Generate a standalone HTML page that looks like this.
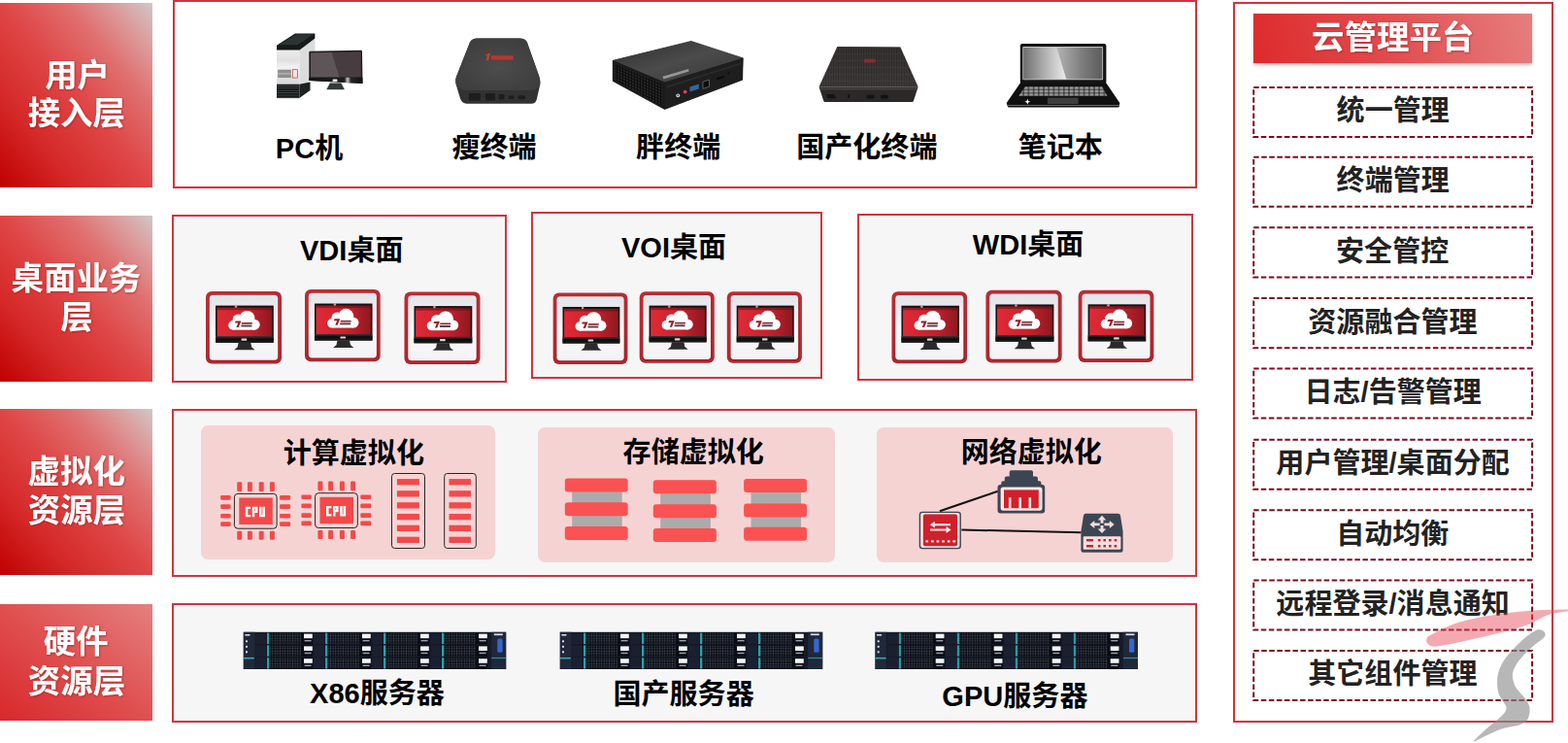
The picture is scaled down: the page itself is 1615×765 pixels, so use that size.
<!DOCTYPE html>
<html lang="zh"><head><meta charset="utf-8"><title>云桌面架构</title>
<style>
html,body{margin:0;padding:0;background:#fff}
body{width:1615px;height:765px;position:relative;overflow:hidden;font-family:"Liberation Sans","Noto Sans CJK SC",sans-serif}
.lb{position:absolute;left:0;width:157px}
.b1{background:linear-gradient(to top right,#c00000 0%,#d52828 25%,#df4646 50%,#e07070 72%,#dba0a0 88%,#cfc8c8 100%)}
.b4{background:linear-gradient(to top right,#d8282b 0%,#e05050 50%,#e48080 100%)}
.bx{position:absolute;border:2px solid #d0343e;}
.pk{position:absolute;background:#f6d3d3;border-radius:7px}
.hd{position:absolute;background:linear-gradient(76deg,#dd2a2c 0%,#e14a4c 45%,#e67e7e 100%);box-shadow:0 2px 3px rgba(120,40,40,.35)}
.ds{position:absolute;width:286.5px;height:50.5px;border:1.5px dashed #8c1c2c}
.t{position:absolute;color:transparent;white-space:nowrap;line-height:1;overflow:hidden;font-weight:bold}
svg.ov{position:absolute;left:0;top:0}
svg.ov text{font-family:"Liberation Sans","Noto Sans CJK SC",sans-serif;font-weight:bold}
</style></head><body>
<div class="lb b1" style="top:3.1px;height:190.4px"></div>
<div class="lb b1" style="top:222.4px;height:170.3px"></div>
<div class="lb b1" style="top:420.5px;height:171.9px"></div>
<div class="lb b4" style="top:622.2px;height:120.3px"></div>
<div class="bx" style="left:178px;top:-0.4px;width:1050.9px;height:190.2px;background:#fff;border-width:2px"></div>
<div class="bx" style="left:176.9px;top:221.1px;width:341.0px;height:168.8px;background:#f6f6f6;border-width:2px"></div>
<div class="bx" style="left:547.1px;top:218.1px;width:296.1px;height:167.9px;background:#f6f6f6;border-width:2px"></div>
<div class="bx" style="left:883.1px;top:220.1px;width:342.0px;height:167.8px;background:#f6f6f6;border-width:2px"></div>
<div class="bx" style="left:177.1px;top:421.1px;width:1051.8px;height:168.8px;background:#f6f6f6;border-width:2px"></div>
<div class="bx" style="left:177.1px;top:621.2px;width:1051.8px;height:118.8px;background:#f6f6f6;border-width:2px"></div>
<div class="pk" style="left:206.5px;top:437.5px;width:303.8px;height:138.5px"></div>
<div class="pk" style="left:553.9px;top:440px;width:306.4px;height:138.6px"></div>
<div class="pk" style="left:903px;top:440px;width:305.1px;height:138.6px"></div>
<div class="bx" style="left:1270px;top:1.8px;width:326.1px;height:738.0px;background:#fff;border-width:2px"></div>
<div class="hd" style="left:1291.3px;top:13.9px;width:286.3px;height:50.7px"></div>
<span class="t" style="left:47px;top:61px;width:62px;font-size:33px">用户</span>
<span class="t" style="left:29px;top:100px;width:98px;font-size:33px">接入层</span>
<span class="t" style="left:12px;top:270px;width:132px;font-size:33px">桌面业务</span>
<span class="t" style="left:63px;top:311px;width:31px;font-size:33px">层</span>
<span class="t" style="left:30px;top:469px;width:98px;font-size:33px">虚拟化</span>
<span class="t" style="left:30px;top:510px;width:97px;font-size:33px">资源层</span>
<span class="t" style="left:46px;top:645px;width:65px;font-size:33px">硬件</span>
<span class="t" style="left:30px;top:686px;width:97px;font-size:33px">资源层</span>
<span class="t" style="left:288px;top:139px;width:64px;font-size:29px">PC机</span>
<span class="t" style="left:466px;top:138px;width:85px;font-size:29px">瘦终端</span>
<span class="t" style="left:656px;top:138px;width:86px;font-size:29px">胖终端</span>
<span class="t" style="left:822px;top:138px;width:142px;font-size:29px">国产化终端</span>
<span class="t" style="left:1049px;top:138px;width:86px;font-size:29px">笔记本</span>
<span class="t" style="left:309px;top:244px;width:104px;font-size:29px">VDI桌面</span>
<span class="t" style="left:640px;top:241px;width:106px;font-size:29px">VOI桌面</span>
<span class="t" style="left:1003px;top:238px;width:112px;font-size:29px">WDI桌面</span>
<span class="t" style="left:293px;top:453px;width:143px;font-size:29px">计算虚拟化</span>
<span class="t" style="left:642px;top:452px;width:144px;font-size:29px">存储虚拟化</span>
<span class="t" style="left:992px;top:452px;width:142px;font-size:29px">网络虚拟化</span>
<span class="t" style="left:319px;top:700px;width:138px;font-size:29px">X86服务器</span>
<span class="t" style="left:634px;top:701px;width:143px;font-size:29px">国产服务器</span>
<span class="t" style="left:973px;top:703px;width:146px;font-size:29px">GPU服务器</span>
<span class="t" style="left:1353px;top:21px;width:164px;font-size:33px">云管理平台</span>
<span class="t" style="left:1377px;top:100px;width:115px;font-size:29px">统一管理</span>
<span class="t" style="left:1377px;top:172px;width:115px;font-size:29px">终端管理</span>
<span class="t" style="left:1378px;top:245px;width:114px;font-size:29px">安全管控</span>
<span class="t" style="left:1348px;top:318px;width:173px;font-size:29px">资源融合管理</span>
<span class="t" style="left:1346px;top:390px;width:180px;font-size:29px">日志/告警管理</span>
<span class="t" style="left:1313px;top:463px;width:242px;font-size:29px">用户管理/桌面分配</span>
<span class="t" style="left:1380px;top:536px;width:111px;font-size:29px">自动均衡</span>
<span class="t" style="left:1314px;top:608px;width:240px;font-size:29px">远程登录/消息通知</span>
<span class="t" style="left:1348px;top:680px;width:172px;font-size:29px">其它组件管理</span>
<svg class="ov" width="1615" height="765" viewBox="0 0 1615 765">
<defs>
<filter id="ts" x="-5%" y="-10%" width="110%" height="125%"><feDropShadow dx="0.6" dy="0.8" stdDeviation="0.9" flood-color="#8a1010" flood-opacity=".55"/></filter>
<linearGradient id="gIn" x1="0" y1="0" x2="0" y2="1"><stop offset="0" stop-color="#e3e4e9"/><stop offset=".3" stop-color="#ededf1"/><stop offset=".55" stop-color="#f9f9fb"/><stop offset="1" stop-color="#f3f3f6"/></linearGradient>
<linearGradient id="gBd" x1="0" y1="0" x2=".3" y2="1"><stop offset="0" stop-color="#bc2a31"/><stop offset="1" stop-color="#a51f27"/></linearGradient>
<linearGradient id="gScr" x1="0" y1="0" x2="1" y2="0"><stop offset="0" stop-color="#e02a36"/><stop offset=".55" stop-color="#c9222c"/><stop offset="1" stop-color="#8e1820"/></linearGradient>
<linearGradient id="gBez" x1="0" y1="0" x2="0" y2="1"><stop offset="0" stop-color="#3a3a3a"/><stop offset=".4" stop-color="#0c0c0c"/><stop offset="1" stop-color="#1c1c1c"/></linearGradient>
<symbol id="dk" viewBox="0 0 78 74.5" overflow="visible">
<rect x="0" y="0" width="78" height="74.5" rx="6" fill="url(#gBd)"/>
<rect x="1.4" y="1.4" width="75.2" height="71.7" rx="5.3" fill="none" stroke="#bf2f36" stroke-width="1"/>
<rect x="3.8" y="3.8" width="70.4" height="66.9" rx="3.5" fill="url(#gIn)"/>
<rect x="10" y="14.6" width="59.8" height="38.2" fill="#1a1114"/>
<rect x="11.6" y="16.8" width="56.6" height="29.600" fill="url(#gScr)"/><rect x="11.600" y="16.800" width="56.600" height="2.400" fill="#5a1218" opacity=".55"/>
<rect x="10" y="46.4" width="59.8" height="6.4" fill="url(#gBez)"/>
<rect x="36.6" y="48.6" width="5.6" height="2.2" rx=".5" fill="#e9c9cf"/>
<path d="M33.6 52.8h12.6l1 4.6l3.4 2.8h-21.4l3.4-2.8z" fill="#2a2a2a"/>
<g fill="#fff"><circle cx="28" cy="34.900" r="4.800"/><circle cx="33.500" cy="29.600" r="6"/><circle cx="42.500" cy="27.900" r="8"/><circle cx="50.300" cy="34.300" r="5.400"/><rect x="28" y="31" width="22.300" height="8.700"/></g>
<path d="M30.600 30.400h5.800l-2.700 6.600h-2.300l1.900-4.600h-3.300z" fill="#a01822"/>
<rect x="36.800" y="32" width="11" height="1.700" fill="#8e2a32"/><rect x="36.400" y="34.600" width="11" height="1.900" fill="#4e4044"/>
<circle cx="31" cy="15.600" r="1.300" fill="#f5b5bb" opacity=".8"/>
</symbol>
<symbol id="cpu" viewBox="0 0 44.5 36.6" overflow="visible">
<g fill="#f24a4a"><rect x="3.2" y="-11.7" width="5" height="9.7" rx="1.2"/><rect x="3.2" y="38.700" width="5" height="9" rx="1.2"/><rect x="13.9" y="-11.7" width="5" height="9.7" rx="1.2"/><rect x="13.9" y="38.700" width="5" height="9" rx="1.2"/><rect x="25.7" y="-11.7" width="5" height="9.7" rx="1.2"/><rect x="25.7" y="38.700" width="5" height="9" rx="1.2"/><rect x="36.9" y="-11.7" width="5" height="9.7" rx="1.2"/><rect x="36.9" y="38.700" width="5" height="9" rx="1.2"/><rect x="-13.800" y="2.1" width="10.400" height="4.600" rx="1.200"/><rect x="47.100" y="2.1" width="11" height="4.600" rx="1.200"/><rect x="-13.800" y="11.3" width="10.400" height="4.600" rx="1.200"/><rect x="47.100" y="11.3" width="11" height="4.600" rx="1.200"/><rect x="-13.800" y="21" width="10.400" height="4.600" rx="1.200"/><rect x="47.100" y="21" width="11" height="4.600" rx="1.200"/><rect x="-13.800" y="29.3" width="10.400" height="4.600" rx="1.200"/><rect x="47.100" y="29.3" width="11" height="4.600" rx="1.200"/><rect x="5.300" y="4.500" width="34.500" height="27.500"/></g>
<rect x=".4" y=".4" width="43.700" height="35.800" rx="3.500" fill="none" stroke="#111" stroke-width=".9"/>
<g fill="#fff"><path d="M17.200 13.700h-5.400v10.600h5.400v-2.300h-2.900v-6h2.900z"/>
<path d="M18.800 13.700h5.600v6.300h-3.100v4.300h-2.500zM21.300 15.800v2.200h.7v-2.200z" fill-rule="evenodd"/>
<path d="M26 13.700h2.500v8.400h.9v-8.400h2.500v10.600h-5.900z"/></g>
</symbol>
<pattern id="mesh" width="2.6" height="2.6" patternUnits="userSpaceOnUse"><rect width="2.6" height="2.6" fill="#090b11"/><circle cx="1.3" cy="1.3" r=".78" fill="#4a5162"/></pattern>
<linearGradient id="gTw" x1="0" y1="0" x2="0" y2="1"><stop offset="0" stop-color="#ececec"/><stop offset=".3" stop-color="#e0e0e0"/><stop offset=".5" stop-color="#f2f2f2"/><stop offset="1" stop-color="#d8d8d8"/></linearGradient>
<pattern id="gVent" width="4" height="2.400" patternUnits="userSpaceOnUse"><rect width="4" height="2.400" fill="#151818"/><rect y="1.700" width="4" height=".7" fill="#4a4f4f"/></pattern>
<linearGradient id="gMb" x1="0" y1="0" x2="1" y2="0"><stop offset="0" stop-color="#151515"/><stop offset=".66" stop-color="#1d1d1d"/><stop offset=".72" stop-color="#c8c8c8"/><stop offset=".78" stop-color="#262626"/><stop offset="1" stop-color="#111"/></linearGradient>
<radialGradient id="gTc" cx=".5" cy=".55" r=".6"><stop offset="0" stop-color="#4c4c4c"/><stop offset="1" stop-color="#3d3d3d"/></radialGradient>
<linearGradient id="gFt" x1="0" y1="0" x2="1" y2="1"><stop offset="0" stop-color="#2e2e2e"/><stop offset=".5" stop-color="#4b4b4b"/><stop offset="1" stop-color="#363636"/></linearGradient>
<pattern id="fmesh" width="3" height="3" patternUnits="userSpaceOnUse" patternTransform="skewY(23)"><rect width="3" height="3" fill="#0a0a0a"/><rect width="2" height="2" fill="#2a2a2a"/></pattern>
<linearGradient id="gDt" x1="0" y1="0" x2="0" y2="1"><stop offset="0" stop-color="#332f2f"/><stop offset="1" stop-color="#454040"/></linearGradient>
<pattern id="dlines" width="2.600" height="7" patternUnits="userSpaceOnUse"><rect width="2.600" height="7" fill="#3c3838"/><rect width="1.100" height="6" fill="#1f1c1c"/></pattern>
<linearGradient id="gLr" x1="0" y1="0" x2="1" y2="0"><stop offset="0" stop-color="#bdbdbd"/><stop offset=".42" stop-color="#b4b4b4"/><stop offset=".75" stop-color="#7c7c7c"/><stop offset="1" stop-color="#5c5c5c"/></linearGradient>
<linearGradient id="gLl" x1="0" y1="0" x2="1" y2="0"><stop offset="0" stop-color="#6e6e6e"/><stop offset=".5" stop-color="#b0b0b0"/><stop offset="1" stop-color="#ececec"/></linearGradient>
<pattern id="keys" width="5.200" height="3.400" patternUnits="userSpaceOnUse" x="1049" y="88.900"><rect width="5.200" height="3.400" fill="#2a2a2a"/><rect x=".5" y=".4" width="4.200" height="2.600" rx=".5" fill="#9a9a9a"/></pattern>
</defs>
<text x="46.19" y="88.95" font-size="33.45" fill="#fff" filter="url(#ts)">用户</text>
<text x="28.68" y="128.29" font-size="33.45" fill="#fff" filter="url(#ts)">接入层</text>
<text x="11.52" y="297.60" font-size="33.45" fill="#fff" filter="url(#ts)">桌面业务</text>
<text x="62.23" y="337.80" font-size="33.45" fill="#fff" filter="url(#ts)">层</text>
<text x="28.56" y="497.06" font-size="33.45" fill="#fff" filter="url(#ts)">虚拟化</text>
<text x="28.78" y="537.27" font-size="33.45" fill="#fff" filter="url(#ts)">资源层</text>
<text x="44.85" y="672.38" font-size="33.45" fill="#fff" filter="url(#ts)">硬件</text>
<text x="28.78" y="713.17" font-size="33.45" fill="#fff" filter="url(#ts)">资源层</text>
<text x="318.55" y="162.59" font-size="29.05" fill="#000" text-anchor="middle">PC机</text>
<text x="465.44" y="162.34" font-size="29.05" fill="#000">瘦终端</text>
<text x="655.10" y="162.32" font-size="29.05" fill="#000">胖终端</text>
<text x="820.21" y="162.08" font-size="29.05" fill="#000">国产化终端</text>
<text x="1048.70" y="162.29" font-size="29.05" fill="#000">笔记本</text>
<text x="362.25" y="268.17" font-size="29.05" fill="#000" text-anchor="middle">VDI桌面</text>
<text x="694.05" y="265.27" font-size="29.05" fill="#000" text-anchor="middle">VOI桌面</text>
<text x="1059.1" y="262.37" font-size="29.05" fill="#000" text-anchor="middle">WDI桌面</text>
<text x="291.73" y="477.29" font-size="29.05" fill="#000">计算虚拟化</text>
<text x="641.62" y="475.74" font-size="29.05" fill="#000">存储虚拟化</text>
<text x="989.66" y="476.07" font-size="29.05" fill="#000">网络虚拟化</text>
<text x="388.5" y="723.57" font-size="29.05" fill="#000" text-anchor="middle">X86服务器</text>
<text x="631.46" y="725.06" font-size="29.05" fill="#000">国产服务器</text>
<text x="1045.4" y="726.67" font-size="29.05" fill="#000" text-anchor="middle">GPU服务器</text>
<text x="1351.08" y="49.63" font-size="33.45" fill="#fff" filter="url(#ts)">云管理平台</text>
<rect x="1291.200" y="89.9" width="286.900" height="51.100" fill="#fff" stroke="#800a1e" stroke-width="2" stroke-dasharray="5.500 2.550"/>
<rect x="1291.200" y="161.7" width="286.900" height="51.100" fill="#fff" stroke="#800a1e" stroke-width="2" stroke-dasharray="5.500 2.550"/>
<rect x="1291.200" y="234.3" width="286.900" height="51.100" fill="#fff" stroke="#800a1e" stroke-width="2" stroke-dasharray="5.500 2.550"/>
<rect x="1291.200" y="307.1" width="286.900" height="51.100" fill="#fff" stroke="#800a1e" stroke-width="2" stroke-dasharray="5.500 2.550"/>
<rect x="1291.200" y="379.4" width="286.900" height="51.100" fill="#fff" stroke="#800a1e" stroke-width="2" stroke-dasharray="5.500 2.550"/>
<rect x="1291.200" y="452.7" width="286.900" height="51.100" fill="#fff" stroke="#800a1e" stroke-width="2" stroke-dasharray="5.500 2.550"/>
<rect x="1291.200" y="525.2" width="286.900" height="51.100" fill="#fff" stroke="#800a1e" stroke-width="2" stroke-dasharray="5.500 2.550"/>
<rect x="1291.200" y="597.5" width="286.900" height="51.100" fill="#fff" stroke="#800a1e" stroke-width="2" stroke-dasharray="5.500 2.550"/>
<rect x="1291.200" y="669.9" width="286.900" height="51.100" fill="#fff" stroke="#800a1e" stroke-width="2" stroke-dasharray="5.500 2.550"/>
<text x="1376.60" y="124.43" font-size="29.05" fill="#222">统一管理</text>
<text x="1376.60" y="196.24" font-size="29.05" fill="#222">终端管理</text>
<text x="1376.05" y="268.87" font-size="29.05" fill="#222">安全管控</text>
<text x="1347.33" y="341.64" font-size="29.05" fill="#222">资源融合管理</text>
<text x="1434.7" y="413.89" font-size="29.05" fill="#222" text-anchor="middle">日志/告警管理</text>
<text x="1434.6" y="487.19" font-size="29.05" fill="#222" text-anchor="middle">用户管理/桌面分配</text>
<text x="1376.17" y="559.69" font-size="29.05" fill="#222">自动均衡</text>
<text x="1434.6" y="632.04" font-size="29.05" fill="#222" text-anchor="middle">远程登录/消息通知</text>
<text x="1347.28" y="704.49" font-size="29.05" fill="#222">其它组件管理</text>
<g><path d="M308.300 51.700L324.400 39.400V60H318.300V86L308.300 88Z" fill="#dcdcdc"/><path d="M308.300 86.700L319.500 84.500V93L308.300 101.100Z" fill="#1f2222"/><path d="M285 46.700L303.900 34.400H324.400V39.400L308.300 51.700H285Z" fill="#161a1a"/><path d="M287.500 46.300L304.500 35.600H322.500L306.500 46.300Z" fill="#2c3333"/><rect x="285" y="51.700" width="23.300" height="35.200" fill="url(#gTw)"/><rect x="286.100" y="71.700" width="13.800" height="8.400" fill="#8f8f8f"/><rect x="286.100" y="75.500" width="13.800" height=".9" fill="#c9c9c9"/><rect x="301.300" y="71.700" width="5" height="8.400" fill="#efe4e4" stroke="#c0392b" stroke-width=".7"/><rect x="285" y="86.700" width="23.300" height="14.400" fill="url(#gVent)"/><path d="M319.300 52.800L371.800 51.700Q373 51.700 373 52.900L373.500 86.100L318.300 83.100V53.800Q318.300 52.800 319.300 52.800Z" fill="#231c1f"/><path d="M320 54.400L371.700 53.300V79.500H320Z" fill="#473d41"/><path d="M320 54.400L341.700 53.900L349.500 79.500H320Z" fill="#5d5558"/><path d="M318.300 79.700H373.400L373.500 86.100L318.300 83.100Z" fill="url(#gMb)"/><rect x="342.600" y="81.500" width="4.800" height="2.700" rx=".5" fill="#e8e8e8"/><path d="M339.800 85.400H351.400L354.900 92.200H336.300Z" fill="#343a3a"/></g><g><path d="M491.700 39.400Q486.100 39.400 484.100 43.300L470 78.900Q468.300 83.300 470.600 90L473.900 101.100Q475.600 106.700 480.600 106.700H547.200Q551.700 106.700 552.800 102.200L555.600 90Q557.200 83.300 555 77.800L542.800 43.300Q541.100 39.400 535 39.400Z" fill="#323232"/><path d="M491.700 39.400Q486.100 39.400 484.100 43.300L470 78.900Q468.400 83.300 470.200 88.500Q472.500 92.600 480 93H546Q553.500 92.600 556 88.500Q557.300 83.300 555 77.800L542.800 43.300Q541.100 39.400 535 39.400Z" fill="url(#gTc)"/><g fill="#1d1d1d"><rect x="482.800" y="96.100" width="12.200" height="7.300" rx="1"/><rect x="500" y="96.100" width="10" height="7.300" rx="1"/><rect x="513.500" y="97" width="6" height="5.500" rx=".8"/><rect x="524" y="98.500" width="5.500" height="3.500" rx=".8"/><ellipse cx="537.300" cy="100.300" rx="3.800" ry="2.200"/></g><path d="M498.600 52.800q4.500-3 9-2.600q-3.500 1-5.200 3.600z" fill="#8a2a24" opacity=".8"/><path d="M499.800 56.600l5.200-2.400l-1.800 8h-2.500l1.100-4.700z" fill="#c8402e"/><rect x="505.800" y="57.200" width="22.800" height="4.300" rx=".6" fill="#b8382c"/></g><g><path d="M631.200 62.300L711.900 42.400L765.300 59.800L764.700 82.200L684.600 112.600L631.200 83.400Z" fill="#1d1d1d" stroke="#1d1d1d" stroke-width=".6" stroke-linejoin="round"/><path d="M631.200 62.300L711.900 42.400L765.300 59.800L684.600 84.700Z" fill="url(#gFt)"/><path d="M631.200 62.300L684.600 84.700V112.600L631.200 83.400Z" fill="#1b1b1b"/><path d="M633.500 66L682 86.500V109.500L633.500 82.500Z" fill="url(#fmesh)" opacity=".9"/><path d="M684.600 84.700L765.300 59.800L764.700 82.200L684.600 112.600Z" fill="#1e1e1e"/><path d="M686.800 88.600L763.400 64.200V66.200L686.800 90.800Z" fill="#2a2a2a"/><path d="M682.500 78.800L709 71L709.600 73.600L683.500 81.400Z" fill="#d8d8d8" opacity=".55"/><circle cx="705.700" cy="94.600" r="1.900" fill="#d84a4a"/><circle cx="698.300" cy="98.300" r="1.900" fill="#dcdcdc"/><circle cx="698.300" cy="98.300" r=".8" fill="#222"/><path d="M710.500 89.500L719.800 86.600V91.400L710.500 94.400Z" fill="#33679c"/><path d="M724 84.200L730.500 82.200V89.200L724 91.300Z" fill="#0c0c0c" stroke="#8a8a8a" stroke-width=".6"/><path d="M738 80.200L746 77.700V79.700L738 82.200Z" fill="#0a0a0a"/><circle cx="750.500" cy="75.500" r="1.100" fill="#0a0a0a"/></g><g><path d="M843.600 89.400L848.300 104Q848.600 105.100 850 105.100H939.200Q940.600 105.100 940.900 104L945.600 89.400Z" fill="#2b2828"/><path d="M862.400 48.100L927.300 48.600L945.600 89.400H843.600Z" fill="url(#gDt)"/><path d="M862.400 48.100L927.300 48.600L945.600 89.400H843.600Z" fill="url(#dlines)" opacity=".55"/><path d="M844.200 90.400H945L944.400 92.600H844.800Z" fill="#454040"/><g fill="#151313"><path d="M851 97h8l2.500 4.500h-9z"/><rect x="873" y="97.300" width="2.400" height="3.600"/><rect x="892.500" y="97.800" width="8" height="4" rx=".8"/><rect x="907" y="97.800" width="8" height="4" rx=".8"/></g><rect x="889.800" y="60.800" width="11.800" height="3.600" rx="1" fill="#8c2a30"/></g><g><path d="M1050.800 85.600H1139.400L1153.300 106.100L1152.800 109.600Q1152.600 110.600 1151.400 110.600H1039.200Q1038 110.600 1037.800 109.600L1036.700 106.100Z" fill="#101010"/><rect x="1050.800" y="45" width="88.600" height="41.600" rx="2.200" fill="#131313"/><rect x="1053.300" y="48.100" width="82.800" height="34.100" rx="1" fill="#c9c9c9"/><rect x="1054.100" y="48.900" width="81.200" height="32.500" fill="url(#gLr)"/><path d="M1054.100 48.900H1088.300L1098.300 81.400H1054.100Z" fill="url(#gLl)"/><path d="M1056.100 88.900H1135L1140.600 98.900H1048.900Z" fill="url(#keys)"/><rect x="1078.900" y="100.600" width="31.700" height="6.400" fill="#3e3e3e"/><path d="M1037.500 108.200H1152.700V108.900H1037.500Z" fill="#8a8a8a"/><path d="M1058.300 101.800l.8 2.200l2.200.8l-2.200.8l-.8 2.200l-.8-2.200l-2.200-.8l2.200-.8z" fill="#fff"/></g><use href="#dk" x="212" y="300" width="78" height="74.5"/><use href="#dk" x="313.7" y="298" width="78.3" height="74.2"/><use href="#dk" x="416.5" y="300.5" width="78" height="74.5"/><use href="#dk" x="569.2" y="301.6" width="77.7" height="73.3"/><use href="#dk" x="658.4" y="300.2" width="77.7" height="73.6"/><use href="#dk" x="748.5" y="300.2" width="77.7" height="73.6"/><use href="#dk" x="918.2" y="300.2" width="78.2" height="74.1"/><use href="#dk" x="1015.1" y="298.8" width="78.8" height="74.7"/><use href="#dk" x="1110.4" y="298.8" width="78.2" height="74.2"/><use href="#cpu" x="241" y="508" width="44.5" height="36.600"/><use href="#cpu" x="324.200" y="507.300" width="44.500" height="36.600"/><rect x="403.5" y="487.500" width="34.0" height="77" rx="3" fill="none" stroke="#111" stroke-width=".9"/><rect x="408.9" y="493.1" width="23.0" height="6.300" fill="#f24a4a"/><rect x="408.9" y="505.2" width="23.0" height="6.300" fill="#f24a4a"/><rect x="408.9" y="517.2" width="23.0" height="6.300" fill="#f24a4a"/><rect x="408.9" y="529" width="23.0" height="6.300" fill="#f24a4a"/><rect x="408.9" y="540.7" width="23.0" height="6.300" fill="#f24a4a"/><rect x="408.9" y="552.7" width="23.0" height="6.300" fill="#f24a4a"/><rect x="457.7" y="487.500" width="32.6" height="77" rx="3" fill="none" stroke="#111" stroke-width=".9"/><rect x="462.5" y="493.1" width="22.5" height="6.300" fill="#f24a4a"/><rect x="462.5" y="505.2" width="22.5" height="6.300" fill="#f24a4a"/><rect x="462.5" y="517.2" width="22.5" height="6.300" fill="#f24a4a"/><rect x="462.5" y="529" width="22.5" height="6.300" fill="#f24a4a"/><rect x="462.5" y="540.7" width="22.5" height="6.300" fill="#f24a4a"/><rect x="462.5" y="552.7" width="22.5" height="6.300" fill="#f24a4a"/><rect x="589.1999999999999" y="499.4" width="51.5" height="49.60000000000002" fill="#ababab"/><rect x="581.8" y="492.4" width="64.9" height="14" rx="3" fill="#fa5252"/><rect x="581.8" y="517.2" width="64.9" height="14" rx="3" fill="#fa5252"/><rect x="581.8" y="542" width="64.9" height="14" rx="3" fill="#fa5252"/><rect x="680.1999999999999" y="501.2" width="51.7" height="49.69999999999999" fill="#ababab"/><rect x="672.8" y="494.2" width="65.1" height="14" rx="3" fill="#fa5252"/><rect x="672.8" y="519.3" width="65.1" height="14" rx="3" fill="#fa5252"/><rect x="672.8" y="543.9" width="65.1" height="14" rx="3" fill="#fa5252"/><rect x="773.5" y="500.1" width="51.5" height="49.69999999999993" fill="#ababab"/><rect x="766.1" y="493.1" width="64.9" height="14" rx="3" fill="#fa5252"/><rect x="766.1" y="518.5" width="64.9" height="14" rx="3" fill="#fa5252"/><rect x="766.1" y="542.8" width="64.9" height="14" rx="3" fill="#fa5252"/><path d="M967.900 526.200L1027.800 505.800M990.400 545.500L1113.400 548.300" stroke="#111" stroke-width="2" fill="none"/><rect x="947.400" y="527.400" width="41.800" height="37.200" rx="2.500" fill="#f6dcdc" stroke="#3c4652" stroke-width="1.400"/><rect x="950.900" y="529.600" width="35.100" height="32.600" rx="1.800" fill="#d0202a"/><g fill="#fbeaea"><path d="M957.800 540.200l5-3.400v2.400h16.200v2h-16.200v2.400z"/><path d="M979.600 545.500l-5 3.400v-2.400h-16.600v-2h16.600v-2.400z"/><rect x="953.3" y="556.300" width="2.800" height="2.100" rx=".5"/><rect x="958.9" y="556.300" width="2.800" height="2.100" rx=".5"/><rect x="964.5" y="556.300" width="2.800" height="2.100" rx=".5"/><rect x="970.1" y="556.300" width="2.800" height="2.100" rx=".5"/><rect x="975.7" y="556.300" width="2.800" height="2.100" rx=".5"/><rect x="981.3" y="556.300" width="2.800" height="2.100" rx=".5"/></g><path d="M1041.600 484.200h20.400q2 0 2 2v4.200h3q1.900 0 1.900 1.900v3h1.400q2.200 0 2.200 2.200v1.400h.7q3 0 3 3v23.600q0 3-3 3h-42.700q-3 0-3-3v-23.600q0-3 3-3h.7v-1.400q0-2.200 2.200-2.200h1.400v-3q0-1.900 1.900-1.900h3v-4.200q0-2 2-2z" fill="#3c4652"/><rect x="1030.600" y="501.600" width="42.900" height="24.100" rx="2.600" fill="#f8e6e6"/><rect x="1034" y="504.400" width="35.800" height="18.800" fill="#d0202a"/><g fill="#f8e6e6"><rect x="1038.900" y="512.300" width="2.600" height="10.900"/><rect x="1049.400" y="512.300" width="2.600" height="10.900"/><rect x="1059.500" y="512.300" width="2.600" height="10.900"/></g><path d="M1118.400 528.800h33.200q2 0 2.400 2l2.600 16.500v19.200q0 2.200-2.200 2.200h-38.800q-2.200 0-2.200-2.200v-19.200l2.600-16.500q.4-2 2.400-2z" fill="#3c4652"/><rect x="1115.700" y="552.200" width="38.700" height="13.600" rx="1" fill="#f7dede"/><g fill="#f3dcdc"><path d="M1135 530.800l4.300 4.600h-2.800v3.400h-3v-3.400h-2.800z"/><path d="M1135 549l-4.300-4.600h2.800v-3.400h3v3.400h2.800z"/><path d="M1122.500 539.900l4.800-4v2.600h5.400v2.800h-5.400v2.600z"/><path d="M1147.600 539.900l-4.800 4v-2.600h-5.400v-2.800h5.400v-2.600z"/></g><g fill="#d0202a"><rect x="1119" y="555" width="7" height="2.400"/><rect x="1119" y="561" width="7" height="2.500"/><rect x="1130.9" y="555" width="2.6" height="2.400"/><rect x="1130.9" y="561" width="2.6" height="2.500"/><rect x="1136.4" y="555" width="2.6" height="2.400"/><rect x="1136.4" y="561" width="2.6" height="2.500"/><rect x="1142" y="555" width="2.600" height="2.400"/><rect x="1142" y="561" width="2.6" height="2.500"/><rect x="1147.6" y="555" width="2.6" height="2.400"/><rect x="1147.6" y="561" width="2.6" height="2.500"/></g><g transform="translate(250.8 650.8)"><rect width="270.4" height="38.200" fill="#161b28"/><rect width="11.800" height="38.200" fill="#20283a"/><rect x="255.400" width="15" height="38.200" fill="#20283a"/><rect x="0" y="26.100" width="11" height="1.500" fill="#2fb3bd"/><rect x="255.400" y="26.100" width="15" height="1.200" fill="#2a8fa0"/><rect x="261.500" y="6.700" width="5.300" height="14.200" rx="1.500" fill="#3466d2"/><g fill="#d8dbe2"><rect x="1.600" y="2.200" width="5" height="1.600"/><rect x="2.200" y="8.500" width="2" height="2"/><rect x="2.200" y="14" width="2" height="2"/><rect x="2.200" y="19.500" width="2" height="2"/><rect x="258" y="1.600" width="9" height="1.800"/></g><rect x="12.3" y="0.6" width="59" height="11.800" fill="#0b0d14"/><rect x="26.3" y="1.2" width="33" height="10.600" fill="url(#mesh)"/><rect x="24.2" y="0.8" width="2.200" height="11.400" fill="#27a3ab"/><rect x="62.2" y="1.8" width="8.800" height="4.600" fill="#f2f3f6"/><rect x="62.8" y="8.2" width="7" height="1.400" fill="#9aa0ad"/><rect x="12.3" y="0.6" width="11.500" height="11.800" fill="#1a2030"/><rect x="12.3" y="13.4" width="59" height="11.800" fill="#0b0d14"/><rect x="26.3" y="14.0" width="33" height="10.600" fill="url(#mesh)"/><rect x="24.2" y="13.6" width="2.200" height="11.400" fill="#27a3ab"/><rect x="62.2" y="14.6" width="8.800" height="4.600" fill="#f2f3f6"/><rect x="62.8" y="21.0" width="7" height="1.400" fill="#9aa0ad"/><rect x="12.3" y="13.4" width="11.500" height="11.800" fill="#1a2030"/><rect x="12.3" y="26.2" width="59" height="11.800" fill="#0b0d14"/><rect x="26.3" y="26.8" width="33" height="10.600" fill="url(#mesh)"/><rect x="24.2" y="26.4" width="2.200" height="11.400" fill="#27a3ab"/><rect x="62.2" y="27.4" width="8.800" height="4.600" fill="#f2f3f6"/><rect x="62.8" y="33.8" width="7" height="1.400" fill="#9aa0ad"/><rect x="12.3" y="26.2" width="11.500" height="11.800" fill="#1a2030"/><rect x="72.3" y="0.6" width="59" height="11.800" fill="#0b0d14"/><rect x="86.3" y="1.2" width="33" height="10.600" fill="url(#mesh)"/><rect x="84.2" y="0.8" width="2.200" height="11.400" fill="#27a3ab"/><rect x="122.2" y="1.8" width="8.800" height="4.600" fill="#f2f3f6"/><rect x="122.8" y="8.2" width="7" height="1.400" fill="#9aa0ad"/><rect x="72.3" y="0.6" width="11.500" height="11.800" fill="#1a2030"/><rect x="72.3" y="13.4" width="59" height="11.800" fill="#0b0d14"/><rect x="86.3" y="14.0" width="33" height="10.600" fill="url(#mesh)"/><rect x="84.2" y="13.6" width="2.200" height="11.400" fill="#27a3ab"/><rect x="122.2" y="14.6" width="8.800" height="4.600" fill="#f2f3f6"/><rect x="122.8" y="21.0" width="7" height="1.400" fill="#9aa0ad"/><rect x="72.3" y="13.4" width="11.500" height="11.800" fill="#1a2030"/><rect x="72.3" y="26.2" width="59" height="11.800" fill="#0b0d14"/><rect x="86.3" y="26.8" width="33" height="10.600" fill="url(#mesh)"/><rect x="84.2" y="26.4" width="2.200" height="11.400" fill="#27a3ab"/><rect x="122.2" y="27.4" width="8.800" height="4.600" fill="#f2f3f6"/><rect x="122.8" y="33.8" width="7" height="1.400" fill="#9aa0ad"/><rect x="72.3" y="26.2" width="11.500" height="11.800" fill="#1a2030"/><rect x="132.3" y="0.6" width="59" height="11.800" fill="#0b0d14"/><rect x="146.3" y="1.2" width="33" height="10.600" fill="url(#mesh)"/><rect x="144.2" y="0.8" width="2.200" height="11.400" fill="#27a3ab"/><rect x="182.2" y="1.8" width="8.800" height="4.600" fill="#f2f3f6"/><rect x="182.8" y="8.2" width="7" height="1.400" fill="#9aa0ad"/><rect x="132.3" y="0.6" width="11.500" height="11.800" fill="#1a2030"/><rect x="132.3" y="13.4" width="59" height="11.800" fill="#0b0d14"/><rect x="146.3" y="14.0" width="33" height="10.600" fill="url(#mesh)"/><rect x="144.2" y="13.6" width="2.200" height="11.400" fill="#27a3ab"/><rect x="182.2" y="14.6" width="8.800" height="4.600" fill="#f2f3f6"/><rect x="182.8" y="21.0" width="7" height="1.400" fill="#9aa0ad"/><rect x="132.3" y="13.4" width="11.500" height="11.800" fill="#1a2030"/><rect x="132.3" y="26.2" width="59" height="11.800" fill="#0b0d14"/><rect x="146.3" y="26.8" width="33" height="10.600" fill="url(#mesh)"/><rect x="144.2" y="26.4" width="2.200" height="11.400" fill="#27a3ab"/><rect x="182.2" y="27.4" width="8.800" height="4.600" fill="#f2f3f6"/><rect x="182.8" y="33.8" width="7" height="1.400" fill="#9aa0ad"/><rect x="132.3" y="26.2" width="11.500" height="11.800" fill="#1a2030"/><rect x="192.3" y="0.6" width="59" height="11.800" fill="#0b0d14"/><rect x="206.3" y="1.2" width="33" height="10.600" fill="url(#mesh)"/><rect x="204.2" y="0.8" width="2.200" height="11.400" fill="#27a3ab"/><rect x="242.2" y="1.8" width="8.800" height="4.600" fill="#f2f3f6"/><rect x="242.8" y="8.2" width="7" height="1.400" fill="#9aa0ad"/><rect x="192.3" y="0.6" width="11.500" height="11.800" fill="#1a2030"/><rect x="192.3" y="13.4" width="59" height="11.800" fill="#0b0d14"/><rect x="206.3" y="14.0" width="33" height="10.600" fill="url(#mesh)"/><rect x="204.2" y="13.6" width="2.200" height="11.400" fill="#27a3ab"/><rect x="242.2" y="14.6" width="8.800" height="4.600" fill="#f2f3f6"/><rect x="242.8" y="21.0" width="7" height="1.400" fill="#9aa0ad"/><rect x="192.3" y="13.4" width="11.500" height="11.800" fill="#1a2030"/><rect x="192.3" y="26.2" width="59" height="11.800" fill="#0b0d14"/><rect x="206.3" y="26.8" width="33" height="10.600" fill="url(#mesh)"/><rect x="204.2" y="26.4" width="2.200" height="11.400" fill="#27a3ab"/><rect x="242.2" y="27.4" width="8.800" height="4.600" fill="#f2f3f6"/><rect x="242.8" y="33.8" width="7" height="1.400" fill="#9aa0ad"/><rect x="192.3" y="26.2" width="11.500" height="11.800" fill="#1a2030"/></g><g transform="translate(576.8 650.8)"><rect width="270.4" height="38.200" fill="#161b28"/><rect width="11.800" height="38.200" fill="#20283a"/><rect x="255.400" width="15" height="38.200" fill="#20283a"/><rect x="0" y="26.100" width="11" height="1.500" fill="#2fb3bd"/><rect x="255.400" y="26.100" width="15" height="1.200" fill="#2a8fa0"/><rect x="261.500" y="6.700" width="5.300" height="14.200" rx="1.500" fill="#3466d2"/><g fill="#d8dbe2"><rect x="1.600" y="2.200" width="5" height="1.600"/><rect x="2.200" y="8.500" width="2" height="2"/><rect x="2.200" y="14" width="2" height="2"/><rect x="2.200" y="19.500" width="2" height="2"/><rect x="258" y="1.600" width="9" height="1.800"/></g><rect x="12.3" y="0.6" width="59" height="11.800" fill="#0b0d14"/><rect x="26.3" y="1.2" width="33" height="10.600" fill="url(#mesh)"/><rect x="24.2" y="0.8" width="2.200" height="11.400" fill="#27a3ab"/><rect x="62.2" y="1.8" width="8.800" height="4.600" fill="#f2f3f6"/><rect x="62.8" y="8.2" width="7" height="1.400" fill="#9aa0ad"/><rect x="12.3" y="0.6" width="11.500" height="11.800" fill="#1a2030"/><rect x="12.3" y="13.4" width="59" height="11.800" fill="#0b0d14"/><rect x="26.3" y="14.0" width="33" height="10.600" fill="url(#mesh)"/><rect x="24.2" y="13.6" width="2.200" height="11.400" fill="#27a3ab"/><rect x="62.2" y="14.6" width="8.800" height="4.600" fill="#f2f3f6"/><rect x="62.8" y="21.0" width="7" height="1.400" fill="#9aa0ad"/><rect x="12.3" y="13.4" width="11.500" height="11.800" fill="#1a2030"/><rect x="12.3" y="26.2" width="59" height="11.800" fill="#0b0d14"/><rect x="26.3" y="26.8" width="33" height="10.600" fill="url(#mesh)"/><rect x="24.2" y="26.4" width="2.200" height="11.400" fill="#27a3ab"/><rect x="62.2" y="27.4" width="8.800" height="4.600" fill="#f2f3f6"/><rect x="62.8" y="33.8" width="7" height="1.400" fill="#9aa0ad"/><rect x="12.3" y="26.2" width="11.500" height="11.800" fill="#1a2030"/><rect x="72.3" y="0.6" width="59" height="11.800" fill="#0b0d14"/><rect x="86.3" y="1.2" width="33" height="10.600" fill="url(#mesh)"/><rect x="84.2" y="0.8" width="2.200" height="11.400" fill="#27a3ab"/><rect x="122.2" y="1.8" width="8.800" height="4.600" fill="#f2f3f6"/><rect x="122.8" y="8.2" width="7" height="1.400" fill="#9aa0ad"/><rect x="72.3" y="0.6" width="11.500" height="11.800" fill="#1a2030"/><rect x="72.3" y="13.4" width="59" height="11.800" fill="#0b0d14"/><rect x="86.3" y="14.0" width="33" height="10.600" fill="url(#mesh)"/><rect x="84.2" y="13.6" width="2.200" height="11.400" fill="#27a3ab"/><rect x="122.2" y="14.6" width="8.800" height="4.600" fill="#f2f3f6"/><rect x="122.8" y="21.0" width="7" height="1.400" fill="#9aa0ad"/><rect x="72.3" y="13.4" width="11.500" height="11.800" fill="#1a2030"/><rect x="72.3" y="26.2" width="59" height="11.800" fill="#0b0d14"/><rect x="86.3" y="26.8" width="33" height="10.600" fill="url(#mesh)"/><rect x="84.2" y="26.4" width="2.200" height="11.400" fill="#27a3ab"/><rect x="122.2" y="27.4" width="8.800" height="4.600" fill="#f2f3f6"/><rect x="122.8" y="33.8" width="7" height="1.400" fill="#9aa0ad"/><rect x="72.3" y="26.2" width="11.500" height="11.800" fill="#1a2030"/><rect x="132.3" y="0.6" width="59" height="11.800" fill="#0b0d14"/><rect x="146.3" y="1.2" width="33" height="10.600" fill="url(#mesh)"/><rect x="144.2" y="0.8" width="2.200" height="11.400" fill="#27a3ab"/><rect x="182.2" y="1.8" width="8.800" height="4.600" fill="#f2f3f6"/><rect x="182.8" y="8.2" width="7" height="1.400" fill="#9aa0ad"/><rect x="132.3" y="0.6" width="11.500" height="11.800" fill="#1a2030"/><rect x="132.3" y="13.4" width="59" height="11.800" fill="#0b0d14"/><rect x="146.3" y="14.0" width="33" height="10.600" fill="url(#mesh)"/><rect x="144.2" y="13.6" width="2.200" height="11.400" fill="#27a3ab"/><rect x="182.2" y="14.6" width="8.800" height="4.600" fill="#f2f3f6"/><rect x="182.8" y="21.0" width="7" height="1.400" fill="#9aa0ad"/><rect x="132.3" y="13.4" width="11.500" height="11.800" fill="#1a2030"/><rect x="132.3" y="26.2" width="59" height="11.800" fill="#0b0d14"/><rect x="146.3" y="26.8" width="33" height="10.600" fill="url(#mesh)"/><rect x="144.2" y="26.4" width="2.200" height="11.400" fill="#27a3ab"/><rect x="182.2" y="27.4" width="8.800" height="4.600" fill="#f2f3f6"/><rect x="182.8" y="33.8" width="7" height="1.400" fill="#9aa0ad"/><rect x="132.3" y="26.2" width="11.500" height="11.800" fill="#1a2030"/><rect x="192.3" y="0.6" width="59" height="11.800" fill="#0b0d14"/><rect x="206.3" y="1.2" width="33" height="10.600" fill="url(#mesh)"/><rect x="204.2" y="0.8" width="2.200" height="11.400" fill="#27a3ab"/><rect x="242.2" y="1.8" width="8.800" height="4.600" fill="#f2f3f6"/><rect x="242.8" y="8.2" width="7" height="1.400" fill="#9aa0ad"/><rect x="192.3" y="0.6" width="11.500" height="11.800" fill="#1a2030"/><rect x="192.3" y="13.4" width="59" height="11.800" fill="#0b0d14"/><rect x="206.3" y="14.0" width="33" height="10.600" fill="url(#mesh)"/><rect x="204.2" y="13.6" width="2.200" height="11.400" fill="#27a3ab"/><rect x="242.2" y="14.6" width="8.800" height="4.600" fill="#f2f3f6"/><rect x="242.8" y="21.0" width="7" height="1.400" fill="#9aa0ad"/><rect x="192.3" y="13.4" width="11.500" height="11.800" fill="#1a2030"/><rect x="192.3" y="26.2" width="59" height="11.800" fill="#0b0d14"/><rect x="206.3" y="26.8" width="33" height="10.600" fill="url(#mesh)"/><rect x="204.2" y="26.4" width="2.200" height="11.400" fill="#27a3ab"/><rect x="242.2" y="27.4" width="8.800" height="4.600" fill="#f2f3f6"/><rect x="242.8" y="33.8" width="7" height="1.400" fill="#9aa0ad"/><rect x="192.3" y="26.2" width="11.500" height="11.800" fill="#1a2030"/></g><g transform="translate(901.5 650.8)"><rect width="270.4" height="38.200" fill="#161b28"/><rect width="11.800" height="38.200" fill="#20283a"/><rect x="255.400" width="15" height="38.200" fill="#20283a"/><rect x="0" y="26.100" width="11" height="1.500" fill="#2fb3bd"/><rect x="255.400" y="26.100" width="15" height="1.200" fill="#2a8fa0"/><rect x="261.500" y="6.700" width="5.300" height="14.200" rx="1.500" fill="#3466d2"/><g fill="#d8dbe2"><rect x="1.600" y="2.200" width="5" height="1.600"/><rect x="2.200" y="8.500" width="2" height="2"/><rect x="2.200" y="14" width="2" height="2"/><rect x="2.200" y="19.500" width="2" height="2"/><rect x="258" y="1.600" width="9" height="1.800"/></g><rect x="12.3" y="0.6" width="59" height="11.800" fill="#0b0d14"/><rect x="26.3" y="1.2" width="33" height="10.600" fill="url(#mesh)"/><rect x="24.2" y="0.8" width="2.200" height="11.400" fill="#27a3ab"/><rect x="62.2" y="1.8" width="8.800" height="4.600" fill="#f2f3f6"/><rect x="62.8" y="8.2" width="7" height="1.400" fill="#9aa0ad"/><rect x="12.3" y="0.6" width="11.500" height="11.800" fill="#1a2030"/><rect x="12.3" y="13.4" width="59" height="11.800" fill="#0b0d14"/><rect x="26.3" y="14.0" width="33" height="10.600" fill="url(#mesh)"/><rect x="24.2" y="13.6" width="2.200" height="11.400" fill="#27a3ab"/><rect x="62.2" y="14.6" width="8.800" height="4.600" fill="#f2f3f6"/><rect x="62.8" y="21.0" width="7" height="1.400" fill="#9aa0ad"/><rect x="12.3" y="13.4" width="11.500" height="11.800" fill="#1a2030"/><rect x="12.3" y="26.2" width="59" height="11.800" fill="#0b0d14"/><rect x="26.3" y="26.8" width="33" height="10.600" fill="url(#mesh)"/><rect x="24.2" y="26.4" width="2.200" height="11.400" fill="#27a3ab"/><rect x="62.2" y="27.4" width="8.800" height="4.600" fill="#f2f3f6"/><rect x="62.8" y="33.8" width="7" height="1.400" fill="#9aa0ad"/><rect x="12.3" y="26.2" width="11.500" height="11.800" fill="#1a2030"/><rect x="72.3" y="0.6" width="59" height="11.800" fill="#0b0d14"/><rect x="86.3" y="1.2" width="33" height="10.600" fill="url(#mesh)"/><rect x="84.2" y="0.8" width="2.200" height="11.400" fill="#27a3ab"/><rect x="122.2" y="1.8" width="8.800" height="4.600" fill="#f2f3f6"/><rect x="122.8" y="8.2" width="7" height="1.400" fill="#9aa0ad"/><rect x="72.3" y="0.6" width="11.500" height="11.800" fill="#1a2030"/><rect x="72.3" y="13.4" width="59" height="11.800" fill="#0b0d14"/><rect x="86.3" y="14.0" width="33" height="10.600" fill="url(#mesh)"/><rect x="84.2" y="13.6" width="2.200" height="11.400" fill="#27a3ab"/><rect x="122.2" y="14.6" width="8.800" height="4.600" fill="#f2f3f6"/><rect x="122.8" y="21.0" width="7" height="1.400" fill="#9aa0ad"/><rect x="72.3" y="13.4" width="11.500" height="11.800" fill="#1a2030"/><rect x="72.3" y="26.2" width="59" height="11.800" fill="#0b0d14"/><rect x="86.3" y="26.8" width="33" height="10.600" fill="url(#mesh)"/><rect x="84.2" y="26.4" width="2.200" height="11.400" fill="#27a3ab"/><rect x="122.2" y="27.4" width="8.800" height="4.600" fill="#f2f3f6"/><rect x="122.8" y="33.8" width="7" height="1.400" fill="#9aa0ad"/><rect x="72.3" y="26.2" width="11.500" height="11.800" fill="#1a2030"/><rect x="132.3" y="0.6" width="59" height="11.800" fill="#0b0d14"/><rect x="146.3" y="1.2" width="33" height="10.600" fill="url(#mesh)"/><rect x="144.2" y="0.8" width="2.200" height="11.400" fill="#27a3ab"/><rect x="182.2" y="1.8" width="8.800" height="4.600" fill="#f2f3f6"/><rect x="182.8" y="8.2" width="7" height="1.400" fill="#9aa0ad"/><rect x="132.3" y="0.6" width="11.500" height="11.800" fill="#1a2030"/><rect x="132.3" y="13.4" width="59" height="11.800" fill="#0b0d14"/><rect x="146.3" y="14.0" width="33" height="10.600" fill="url(#mesh)"/><rect x="144.2" y="13.6" width="2.200" height="11.400" fill="#27a3ab"/><rect x="182.2" y="14.6" width="8.800" height="4.600" fill="#f2f3f6"/><rect x="182.8" y="21.0" width="7" height="1.400" fill="#9aa0ad"/><rect x="132.3" y="13.4" width="11.500" height="11.800" fill="#1a2030"/><rect x="132.3" y="26.2" width="59" height="11.800" fill="#0b0d14"/><rect x="146.3" y="26.8" width="33" height="10.600" fill="url(#mesh)"/><rect x="144.2" y="26.4" width="2.200" height="11.400" fill="#27a3ab"/><rect x="182.2" y="27.4" width="8.800" height="4.600" fill="#f2f3f6"/><rect x="182.8" y="33.8" width="7" height="1.400" fill="#9aa0ad"/><rect x="132.3" y="26.2" width="11.500" height="11.800" fill="#1a2030"/><rect x="192.3" y="0.6" width="59" height="11.800" fill="#0b0d14"/><rect x="206.3" y="1.2" width="33" height="10.600" fill="url(#mesh)"/><rect x="204.2" y="0.8" width="2.200" height="11.400" fill="#27a3ab"/><rect x="242.2" y="1.8" width="8.800" height="4.600" fill="#f2f3f6"/><rect x="242.8" y="8.2" width="7" height="1.400" fill="#9aa0ad"/><rect x="192.3" y="0.6" width="11.500" height="11.800" fill="#1a2030"/><rect x="192.3" y="13.4" width="59" height="11.800" fill="#0b0d14"/><rect x="206.3" y="14.0" width="33" height="10.600" fill="url(#mesh)"/><rect x="204.2" y="13.6" width="2.200" height="11.400" fill="#27a3ab"/><rect x="242.2" y="14.6" width="8.800" height="4.600" fill="#f2f3f6"/><rect x="242.8" y="21.0" width="7" height="1.400" fill="#9aa0ad"/><rect x="192.3" y="13.4" width="11.500" height="11.800" fill="#1a2030"/><rect x="192.3" y="26.2" width="59" height="11.800" fill="#0b0d14"/><rect x="206.3" y="26.8" width="33" height="10.600" fill="url(#mesh)"/><rect x="204.2" y="26.4" width="2.200" height="11.400" fill="#27a3ab"/><rect x="242.2" y="27.4" width="8.800" height="4.600" fill="#f2f3f6"/><rect x="242.8" y="33.8" width="7" height="1.400" fill="#9aa0ad"/><rect x="192.3" y="26.2" width="11.500" height="11.800" fill="#1a2030"/></g>
<path d="M1469.100 659.100C1469.500 657.500 1469.700 656.200 1470.500 655.500C1480 650 1488 646 1497.200 642.500C1508 638.800 1519 636.500 1529.500 634.600C1541 632.500 1553 631 1564.800 629.700C1581 628 1597 627.700 1615 627.500L1615 629.200C1608 630 1602 631 1596.200 632.600C1590 634.800 1584 638 1578.500 641.500C1564 647 1549 650.500 1533.400 654.200C1523 656.800 1514 659 1504 661.100C1496 662.800 1488 664.500 1480.500 665.600C1476 666 1473.500 665.500 1471.700 664C1470 662.500 1469 661 1469.100 659.100Z" fill="#e8485a" opacity=".47"/><path d="M1582.500 648.700C1576 652 1570 657 1564.800 662.100C1559 668 1553.500 673.500 1549.100 679.700C1545.500 685.500 1543 691 1542.300 697.400C1541.800 703 1542 708 1543.200 713C1545 718.500 1548.500 722.500 1551.100 726.800C1552 729.500 1551.200 732 1549.100 734.600C1545 739.500 1539 744 1533.400 748.300C1528 753 1522.500 758 1517.700 763L1519 763.500C1522.500 761.500 1526 759.500 1529.500 758.100C1535 755.500 1541 752.500 1547.200 750.300C1553 748.500 1559 747.800 1564.800 746.400C1569 745 1572 743.200 1573.600 740.500C1575.200 736.800 1575.900 732.500 1575.600 728.700C1574.800 725 1573 721.800 1570.700 718.900C1567.500 715 1563.500 711.500 1560.900 707.200C1558.800 703 1557.500 698 1557.900 693.400C1558.800 688.500 1561.500 684 1564.800 679.700C1569.500 674 1575 669 1580.500 664C1584.500 661 1588.500 658.500 1591.300 655.200C1592 653 1591.500 651.500 1590 650C1588 648.300 1585 648 1582.500 648.700Z" fill="#8a8a8a" opacity=".62"/>
</svg>
</body></html>
